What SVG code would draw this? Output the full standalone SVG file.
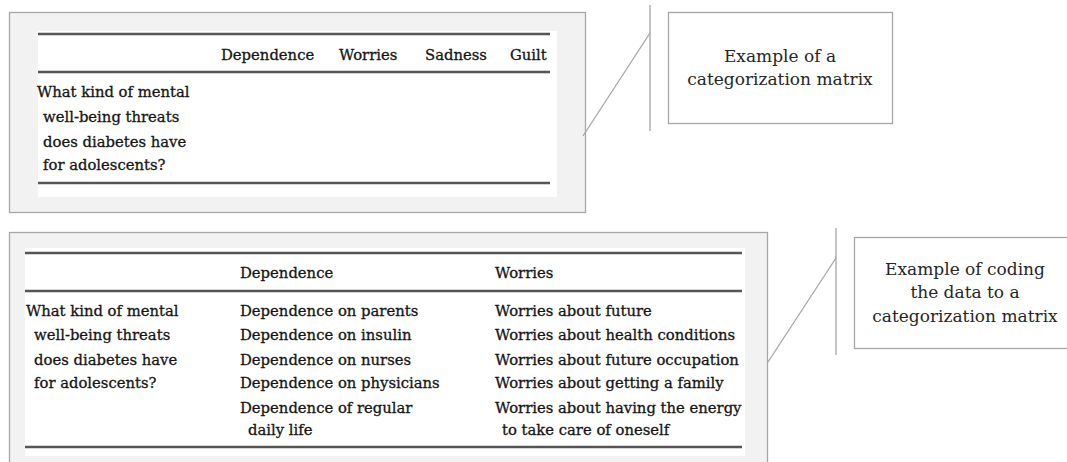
<svg xmlns="http://www.w3.org/2000/svg" width="1067" height="462" viewBox="0 0 1067 462">
  <style>
    .panel { fill: #f2f2f2; stroke: #a6a6a6; stroke-width: 1.3; }
    .sheet { fill: #ffffff; }
    .rule { stroke: #555555; stroke-width: 2.6; }
    .tbl { font-family: "DejaVu Serif", "Liberation Serif", serif; font-size: 14.8px; fill: #151515; stroke: #151515; stroke-width: 0.3; }
    .note { fill: #ffffff; stroke: #a6a6a6; stroke-width: 1.3; }
    .noteText { font-family: "DejaVu Serif", "Liberation Serif", serif; font-size: 17px; fill: #262626; text-anchor: middle; }
    .link { stroke: #a6a6a6; stroke-width: 1.3; fill: none; }
    .bar { stroke: #c4c4c4; stroke-width: 2; fill: none; }
  </style>

  <!-- Empty categorization matrix -->
  <g id="matrix-empty">
    <rect class="panel" x="9.5" y="12.5" width="576" height="200"/>
    <rect class="sheet" x="38" y="31" width="519" height="166"/>
    <line class="rule" x1="38" y1="34" x2="550" y2="34"/>
    <line class="rule" x1="38" y1="72" x2="550" y2="72"/>
    <line class="rule" x1="38" y1="183" x2="550" y2="183"/>
    <g class="tbl">
      <text x="221" y="60">Dependence</text>
      <text x="339" y="60">Worries</text>
      <text x="425" y="60">Sadness</text>
      <text x="510" y="60">Guilt</text>
      <text x="37" y="97">What kind of mental</text>
      <text x="43" y="122">well-being threats</text>
      <text x="43" y="147">does diabetes have</text>
      <text x="43" y="170">for adolescents?</text>
    </g>
  </g>

  <!-- Coded categorization matrix -->
  <g id="matrix-coded">
    <rect class="panel" x="9.5" y="232.5" width="758" height="240"/>
    <rect class="sheet" x="25" y="248" width="720" height="208"/>
    <line class="rule" x1="25" y1="253" x2="742" y2="253"/>
    <line class="rule" x1="25" y1="291" x2="742" y2="291"/>
    <line class="rule" x1="25" y1="447" x2="742" y2="447"/>
    <g class="tbl">
      <text x="240" y="278">Dependence</text>
      <text x="495" y="278">Worries</text>
      <text x="26" y="316">What kind of mental</text>
      <text x="34" y="340">well-being threats</text>
      <text x="34" y="365">does diabetes have</text>
      <text x="34" y="388">for adolescents?</text>
      <text x="240" y="316">Dependence on parents</text>
      <text x="240" y="340">Dependence on insulin</text>
      <text x="240" y="365">Dependence on nurses</text>
      <text x="240" y="388">Dependence on physicians</text>
      <text x="240" y="413">Dependence of regular</text>
      <text x="248" y="435">daily life</text>
      <text x="495" y="316">Worries about future</text>
      <text x="495" y="340">Worries about health conditions</text>
      <text x="495" y="365">Worries about future occupation</text>
      <text x="495" y="388">Worries about getting a family</text>
      <text x="495" y="413">Worries about having the energy</text>
      <text x="502" y="435">to take care of oneself</text>
    </g>
  </g>

  <!-- Callout: example of a categorization matrix -->
  <g id="note-matrix">
    <rect class="note" x="668.5" y="12.5" width="224" height="111"/>
    <text class="noteText" x="780" y="62">Example of a</text>
    <text class="noteText" x="780" y="85">categorization matrix</text>
  </g>

  <!-- Callout: example of coding the data -->
  <g id="note-coding">
    <rect class="note" x="854.5" y="237.5" width="216" height="111"/>
    <text class="noteText" x="965" y="275">Example of coding</text>
    <text class="noteText" x="965" y="298">the data to a</text>
    <text class="noteText" x="965" y="322">categorization matrix</text>
  </g>

  <!-- Callout leaders -->
  <g id="connectors">
    <line class="bar" x1="650" y1="5" x2="650" y2="131"/>
    <line class="link" x1="583" y1="136" x2="650" y2="33"/>
    <line class="bar" x1="836" y1="228" x2="836" y2="355"/>
    <line class="link" x1="768" y1="362" x2="836" y2="258"/>
  </g>
</svg>
